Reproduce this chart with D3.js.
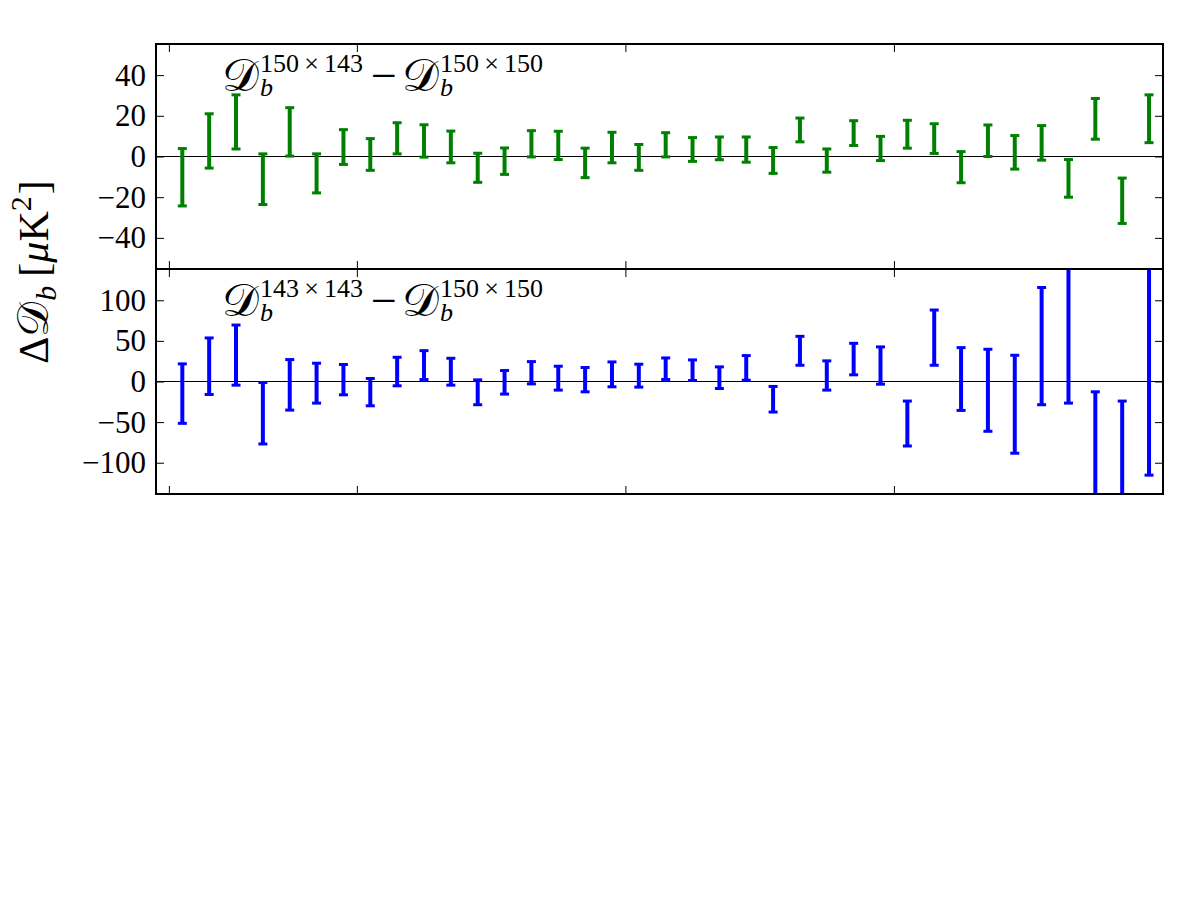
<!DOCTYPE html>
<html>
<head>
<meta charset="utf-8">
<script src="https://cdn.jsdelivr.net/npm/d3@7"></script>
<style>
  body { margin: 0; background: #fff; }
  text { font-family: "Liberation Serif", "Times New Roman", serif; fill: #000; }
</style>
</head>
<body>
<div id="chart"></div>
<script>
var WIDTH = 1200, HEIGHT = 900;

// multipole bin centres
var ells = [175, 225, 275, 325, 375, 425, 475, 525, 575, 625, 675, 725, 775,
            825, 875, 925, 975, 1025, 1075, 1125, 1175, 1225, 1275, 1325, 1375,
            1425, 1475, 1525, 1575, 1625, 1675, 1725, 1775, 1825, 1875, 1925, 1975];
var xTicks = [150, 500, 1000, 1500, 2000];

// D_b^{150x143} - D_b^{150x150}: lower / upper end of each error bar
var lo150x143 = [-24.3, -5.7, 3.7, -23.6, 0.2, -17.9, -3.9, -6.8, 1.3, -0.3, -3.1, -12.7, -8.8,
                 -0.2, -1.5, -10.4, -3.1, -6.8, -0.2, -2.4, -1.6, -2.8, -8.3, 7.2, -7.7,
                 5.4, -2.0, 4.1, 1.5, -12.9, 0.0, -6.2, -1.8, -20.0, 8.5, -32.9, 6.8];
var hi150x143 = [3.9, 21.0, 30.3, 1.3, 24.0, 1.3, 13.2, 8.8, 16.6, 15.6, 12.5, 1.6, 4.2,
                 12.7, 12.4, 4.1, 11.9, 5.9, 11.7, 9.3, 9.6, 9.6, 4.4, 18.9, 3.7,
                 17.6, 9.9, 17.8, 16.1, 2.4, 15.5, 10.3, 15.2, -1.5, 28.5, -10.6, 30.3];

// D_b^{143x143} - D_b^{150x150}
var lo143x143 = [-51.5, -16.0, -4.5, -76.9, -35.2, -26.6, -16.4, -29.9, -5.3, 2.5, -4.5, -28.6, -15.5,
                 -2.9, -10.6, -12.7, -6.5, -6.9, 2.5, 1.2, -8.6, 1.6, -37.6, 20.0, -10.6,
                 8.2, -3.3, -79.4, 20.0, -35.6, -61.3, -88.3, -28.6, -26.6, -170, -170, -115.3];
var hi143x143 = [21.7, 53.6, 69.5, -1.2, 27.0, 22.5, 20.9, 3.7, 29.8, 38.0, 28.6, 2.0, 13.5,
                 24.5, 18.8, 17.2, 24.1, 21.3, 29.0, 26.6, 18.0, 31.9, -6.1, 55.6, 25.4,
                 47.0, 42.6, -24.1, 88.0, 41.7, 39.7, 32.3, 115.7, 165, -12.7, -24.1, 170];

var topTicks = [-40, -20, 0, 20, 40];
var bottomTicks = [-100, -50, 0, 50, 100];
var topLabel = ["150\u2009×\u2009143", "150\u2009×\u2009150"];
var bottomLabel = ["143\u2009×\u2009143", "150\u2009×\u2009150"];

var margin = {left: 156, right: 37, top: 44};
var panelH = 225;
var plotW = WIDTH - margin.left - margin.right;

var svg = d3.select("#chart").append("svg")
    .attr("width", WIDTH)
    .attr("height", HEIGHT)
    .style("background", "#fff");

var x = d3.scaleLinear().domain([126, 2001]).range([0, plotW]);

var panels = [
  {lo: lo150x143, hi: hi150x143, ticks: topTicks, domain: [-55.3, 55.3], color: "#008000", label: topLabel},
  {lo: lo143x143, hi: hi143x143, ticks: bottomTicks, domain: [-138.5, 138.5], color: "#0000ff", label: bottomLabel}
];

// lay out a bit of maths as a row of text pieces, returns its width
function mathText(g, parts) {
  var cx = 0;
  parts.forEach(function(p) {
    cx += p.pre || 0;
    if (p.sup != null || p.sub != null) {
      var w = 0;
      if (p.sup != null) {
        var ts = g.append("text").attr("x", cx).attr("y", p.supY)
          .style("font-size", p.size + "px").text(p.sup);
        w = Math.max(w, ts.node().getComputedTextLength());
      }
      if (p.sub != null) {
        var tb = g.append("text").attr("x", cx).attr("y", p.subY)
          .style("font-size", p.size + "px").style("font-style", "italic").text(p.sub);
        w = Math.max(w, tb.node().getComputedTextLength());
      }
      cx += w;
    } else {
      var t = g.append("text").attr("x", cx).attr("y", 0)
        .style("font-size", p.size + "px")
        .style("font-style", p.italic ? "italic" : null)
        .text(p.text);
      cx += t.node().getComputedTextLength();
    }
    cx += p.post || 0;
  });
  return cx;
}

panels.forEach(function(p, i) {
  var y = d3.scaleLinear().domain(p.domain).range([panelH, 0]);
  var g = svg.append("g")
    .attr("transform", "translate(" + margin.left + "," + (margin.top + i * panelH) + ")");

  g.append("clipPath").attr("id", "clip" + i)
    .append("rect").attr("width", plotW).attr("height", panelH);

  var plot = g.append("g").attr("clip-path", "url(#clip" + i + ")");

  plot.append("line")
    .attr("x1", 0).attr("x2", plotW)
    .attr("y1", y(0)).attr("y2", y(0))
    .attr("stroke", "#000").attr("stroke-width", 1);

  var bars = plot.selectAll(".bar").data(ells).enter().append("g").attr("class", "bar");
  bars.append("line")
    .attr("x1", function(d) { return x(d); })
    .attr("x2", function(d) { return x(d); })
    .attr("y1", function(d, j) { return y(p.lo[j]); })
    .attr("y2", function(d, j) { return y(p.hi[j]); })
    .attr("stroke", p.color).attr("stroke-width", 4);
  ["lo", "hi"].forEach(function(k) {
    bars.append("line")
      .attr("x1", function(d) { return x(d) - 4.5; })
      .attr("x2", function(d) { return x(d) + 4.5; })
      .attr("y1", function(d, j) { return y(p[k][j]); })
      .attr("y2", function(d, j) { return y(p[k][j]); })
      .attr("stroke", p.color).attr("stroke-width", 3);
  });

  // axes, ticks pointing inwards
  g.append("g")
    .call(d3.axisLeft(y).tickValues(p.ticks).tickSize(-8).tickPadding(10))
    .call(function(a) { a.select(".domain").remove(); })
    .selectAll("text").style("font-size", "31px");
  g.append("g").attr("transform", "translate(" + plotW + ",0)")
    .call(d3.axisRight(y).tickValues(p.ticks).tickSize(-8).tickFormat(""))
    .call(function(a) { a.select(".domain").remove(); });
  g.append("g")
    .call(d3.axisTop(x).tickValues(xTicks).tickSize(-8).tickFormat(""))
    .call(function(a) { a.select(".domain").remove(); });
  g.append("g").attr("transform", "translate(0," + panelH + ")")
    .call(d3.axisBottom(x).tickValues(xTicks).tickSize(-8).tickFormat(""))
    .call(function(a) { a.select(".domain").remove(); });
  g.selectAll(".tick line").attr("stroke", "#000").attr("stroke-width", 1);

  g.append("rect")
    .attr("width", plotW).attr("height", panelH)
    .attr("fill", "none").attr("stroke", "#000").attr("stroke-width", 2);

  var ann = g.append("g").attr("transform", "translate(66,47)");
  mathText(ann, [
    {text: "\u{1D49F}", size: 46, post: 1},
    {sup: p.label[0], supY: -19, sub: "b", subY: 5, size: 26},
    {text: "\u2212", size: 46, pre: 8},
    {text: "\u{1D49F}", size: 46, pre: 5, post: 1},
    {sup: p.label[1], supY: -19, sub: "b", subY: 5, size: 26}
  ]);
});

// shared y label
var yl = svg.append("g");
var ylInner = yl.append("g");
var w = mathText(ylInner, [
  {text: "\u0394", size: 42},
  {text: "\u{1D49F}", size: 44, post: 1},
  {sub: "b", subY: 8, size: 30},
  {text: "[", size: 42, pre: 9},
  {text: "\u03bc", size: 42, italic: true},
  {text: "K", size: 42},
  {sup: "2", supY: -17, size: 30},
  {text: "]", size: 42, pre: 2}
]);
ylInner.attr("transform", "translate(" + (-w / 2) + ",0)");
yl.attr("transform", "translate(48,272) rotate(-90)");
</script>
</body>
</html>
